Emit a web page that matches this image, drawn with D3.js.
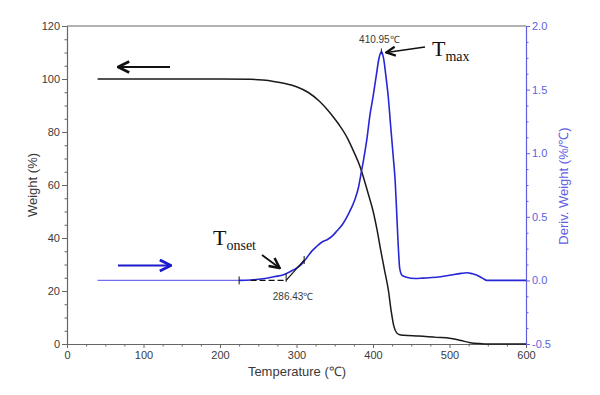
<!DOCTYPE html>
<html><head><meta charset="utf-8">
<script src="https://cdn.jsdelivr.net/npm/d3@7/dist/d3.min.js"></script>
<style>
body{margin:0;background:#fff;}
svg{display:block;font-family:"Liberation Sans",Arial,sans-serif;}
</style></head>
<body><svg id="c" width="600" height="395"></svg>
<script>
// ---- data ----
const weightT = [40,100,150,200,240,256,270,285,300,315,330,344,355,366,375,383,390,395,400,405,410,415,420,424,427,431,435,440,460,483,500,515,527,540,550,600];
const weightW = [100,100,100,100,99.9,99.6,99.1,98.3,97.1,95.0,91.6,87.2,83.0,78.0,72.5,67.0,60.5,55.5,50.3,43.5,35.5,28.0,20.5,12.0,7.0,4.2,3.5,3.3,3.0,2.5,2.2,1.3,0.5,0.15,0,0];
const derivT = [40,100,200,225,240,261,272,283,292,300,307,313,320,326,333,340,347,353,360,366,371,376,381,385,388,392,396,400,404,408,411,414,417,420,423,426.5,429,431,433,435,438,444,455,465,483,500,515,523,530,536,543,549,600];
const derivD = [0,0,0,0,0.003,0.017,0.03,0.045,0.07,0.096,0.13,0.175,0.23,0.265,0.30,0.32,0.35,0.39,0.44,0.50,0.56,0.63,0.73,0.86,0.96,1.11,1.30,1.44,1.60,1.75,1.80,1.74,1.60,1.44,1.22,0.97,0.78,0.53,0.27,0.09,0.04,0.025,0.015,0.018,0.025,0.04,0.055,0.06,0.052,0.04,0.018,0,0];
const xTicks = [0,100,200,300,400,500,600];
const yLeftTicks = [0,20,40,60,80,100,120];
const yRightTicks = [-0.5,0.0,0.5,1.0,1.5,2.0];
const onsetT = 286.43, onsetBaseStart = 225, onsetTangentEnd = 310, onsetTangentD = 0.16;
const peakT = 410.95, peakD = 1.80;
const texts = {x:"Temperature (℃)", yl:"Weight (%)", yr:"Deriv. Weight (%/℃)", onset:"286.43℃", peak:"410.95℃"};

// ---- layout ----
const svg = d3.select("#c");
const L=67, R=526, T=26, B=344;
const x = d3.scaleLinear().domain([0,600]).range([L,R]);
const yl = d3.scaleLinear().domain([0,120]).range([B,T]);
const yr = d3.scaleLinear().domain([-0.5,2.0]).range([B,T]);
const gray="#666", blueAx="#6060e0", txt="#3a3a3a";

svg.append("defs").html(`
<marker id="ahK" viewBox="0 0 10 10" refX="9" refY="5" markerWidth="7" markerHeight="7" orient="auto"><path d="M1,1 L9,5 L1,9" fill="none" stroke="#111" stroke-width="2"/></marker>
<marker id="ahB" viewBox="0 0 10 10" refX="9" refY="5" markerWidth="7" markerHeight="7" orient="auto"><path d="M1,1 L9,5 L1,9" fill="none" stroke="#1a1acc" stroke-width="2"/></marker>
`);

// top border
svg.append("line").attr("x1",L).attr("x2",R).attr("y1",T).attr("y2",T).attr("stroke",gray).attr("stroke-width",1.2);

function styleAxis(g,color){
  g.select(".domain").attr("stroke",color).attr("stroke-width",1.2);
  g.selectAll(".tick line").attr("stroke",color);
  g.selectAll("text").attr("fill",color===gray?txt:color).attr("font-size","11px");
}
// bottom axis
const gx = svg.append("g").attr("transform",`translate(0,${B})`)
  .call(d3.axisBottom(x).tickValues(xTicks).tickSize(4).tickPadding(3).tickSizeOuter(0));
styleAxis(gx,gray);
svg.append("g").attr("transform",`translate(0,${B})`)
  .call(d3.axisBottom(x).tickValues(d3.range(25,600,25).filter(v=>v%100)).tickSize(2.5).tickFormat(""))
  .call(g=>{g.select(".domain").remove();g.selectAll("line").attr("stroke",gray);});
// left axis
const gl = svg.append("g").attr("transform",`translate(${L},0)`)
  .call(d3.axisLeft(yl).tickValues(yLeftTicks).tickFormat(d3.format("d")).tickSize(5).tickPadding(2).tickSizeOuter(0));
styleAxis(gl,gray);
svg.append("g").attr("transform",`translate(${L},0)`)
  .call(d3.axisLeft(yl).tickValues(d3.range(5,120,5).filter(v=>v%20)).tickSize(2.5).tickFormat(""))
  .call(g=>{g.select(".domain").remove();g.selectAll("line").attr("stroke",gray);});
// right axis
const fmtR = v => d3.format(".1f")(v).replace("\u2212","-");
const gr = svg.append("g").attr("transform",`translate(${R},0)`)
  .call(d3.axisRight(yr).tickValues(yRightTicks).tickFormat(fmtR).tickSize(4).tickPadding(2).tickSizeOuter(0));
styleAxis(gr,blueAx);
svg.append("g").attr("transform",`translate(${R},0)`)
  .call(d3.axisRight(yr).tickValues(d3.range(-0.375,2.0,0.125).filter(v=>Math.abs(v*2-Math.round(v*2))>1e-6)).tickSize(2.5).tickFormat(""))
  .call(g=>{g.select(".domain").remove();g.selectAll("line").attr("stroke",blueAx);});

// axis titles
svg.append("text").attr("x",297).attr("y",376).attr("text-anchor","middle").attr("font-size","13px").attr("fill",txt).text(texts.x);
svg.append("text").attr("transform","translate(37,185) rotate(-90)").attr("text-anchor","middle").attr("font-size","13px").attr("fill",txt).text(texts.yl);
svg.append("text").attr("transform","translate(568,186) rotate(-90)").attr("text-anchor","middle").attr("font-size","13px").attr("fill",blueAx).text(texts.yr);

// curves
const wData = weightT.map((t,i)=>[t,weightW[i]]);
const dData = derivT.map((t,i)=>[t,derivD[i]]);
const lineW = d3.line().x(d=>x(d[0])).y(d=>yl(d[1])).curve(d3.curveMonotoneX);
const lineD = d3.line().x(d=>x(d[0])).y(d=>yr(d[1])).curve(d3.curveMonotoneX);
svg.append("path").attr("d",lineW(wData)).attr("fill","none").attr("stroke","#1a1a1a").attr("stroke-width",1.5);
svg.append("path").attr("d",lineD(dData.filter(d=>d[0]<=onsetBaseStart))).attr("fill","none").attr("stroke","#6f6fee").attr("stroke-width",1.3);
svg.append("path").attr("d",lineD(dData.filter(d=>d[0]>=onsetBaseStart))).attr("fill","none").attr("stroke","#2626d6").attr("stroke-width",1.6);

// onset construction
const k="#111";
svg.append("line").attr("x1",x(onsetBaseStart+15)).attr("x2",x(onsetT)).attr("y1",yr(0)).attr("y2",yr(0)).attr("stroke",k).attr("stroke-width",1.2).attr("stroke-dasharray","6,3");
svg.append("line").attr("x1",x(onsetT)).attr("x2",x(onsetTangentEnd)).attr("y1",yr(0)).attr("y2",yr(onsetTangentD)).attr("stroke",k).attr("stroke-width",1.2);
[[onsetBaseStart,0],[onsetT,0.02],[onsetTangentEnd,onsetTangentD]].forEach(p=>{
  svg.append("line").attr("x1",x(p[0])).attr("x2",x(p[0])).attr("y1",yr(p[1])-4).attr("y2",yr(p[1])+4).attr("stroke",k).attr("stroke-width",1);
});
svg.append("text").attr("x",x(onsetT)+7).attr("y",300).attr("text-anchor","middle").attr("font-size","10px").attr("fill",txt).text(texts.onset);
svg.append("text").attr("x",x(peakT)-2).attr("y",yr(peakD)-8).attr("text-anchor","middle").attr("font-size","10px").attr("fill",txt).text(texts.peak);
svg.append("line").attr("x1",x(peakT)).attr("x2",x(peakT)).attr("y1",yr(peakD)-3).attr("y2",yr(peakD)+3).attr("stroke","#222");

// T labels
const tOn = svg.append("text").attr("x",213).attr("y",245).attr("font-family","'Liberation Serif','Times New Roman',serif").attr("fill","#111");
tOn.append("tspan").attr("font-size","22px").text("T");
tOn.append("tspan").attr("font-size","14px").attr("dy",5).text("onset");
const tMx = svg.append("text").attr("x",432).attr("y",56).attr("font-family","'Liberation Serif','Times New Roman',serif").attr("fill","#111");
tMx.append("tspan").attr("font-size","22px").text("T");
tMx.append("tspan").attr("font-size","14px").attr("dy",5).text("max");

// annotation arrows
svg.append("line").attr("x1",262).attr("y1",255).attr("x2",x(278)).attr("y2",268).attr("stroke","#111").attr("stroke-width",1.8).attr("marker-end","url(#ahK)");
svg.append("line").attr("x1",425).attr("y1",47).attr("x2",x(peakT)+5).attr("y2",yr(peakD)+1).attr("stroke","#111").attr("stroke-width",1.6).attr("marker-end","url(#ahK)");
// direction arrows
svg.append("line").attr("x1",170).attr("x2",118).attr("y1",67).attr("y2",67).attr("stroke","#111").attr("stroke-width",2).attr("marker-end","url(#ahK)");
svg.append("line").attr("x1",118).attr("x2",171).attr("y1",265.5).attr("y2",265.5).attr("stroke","#1a1acc").attr("stroke-width",2).attr("marker-end","url(#ahB)");
</script></body></html>
